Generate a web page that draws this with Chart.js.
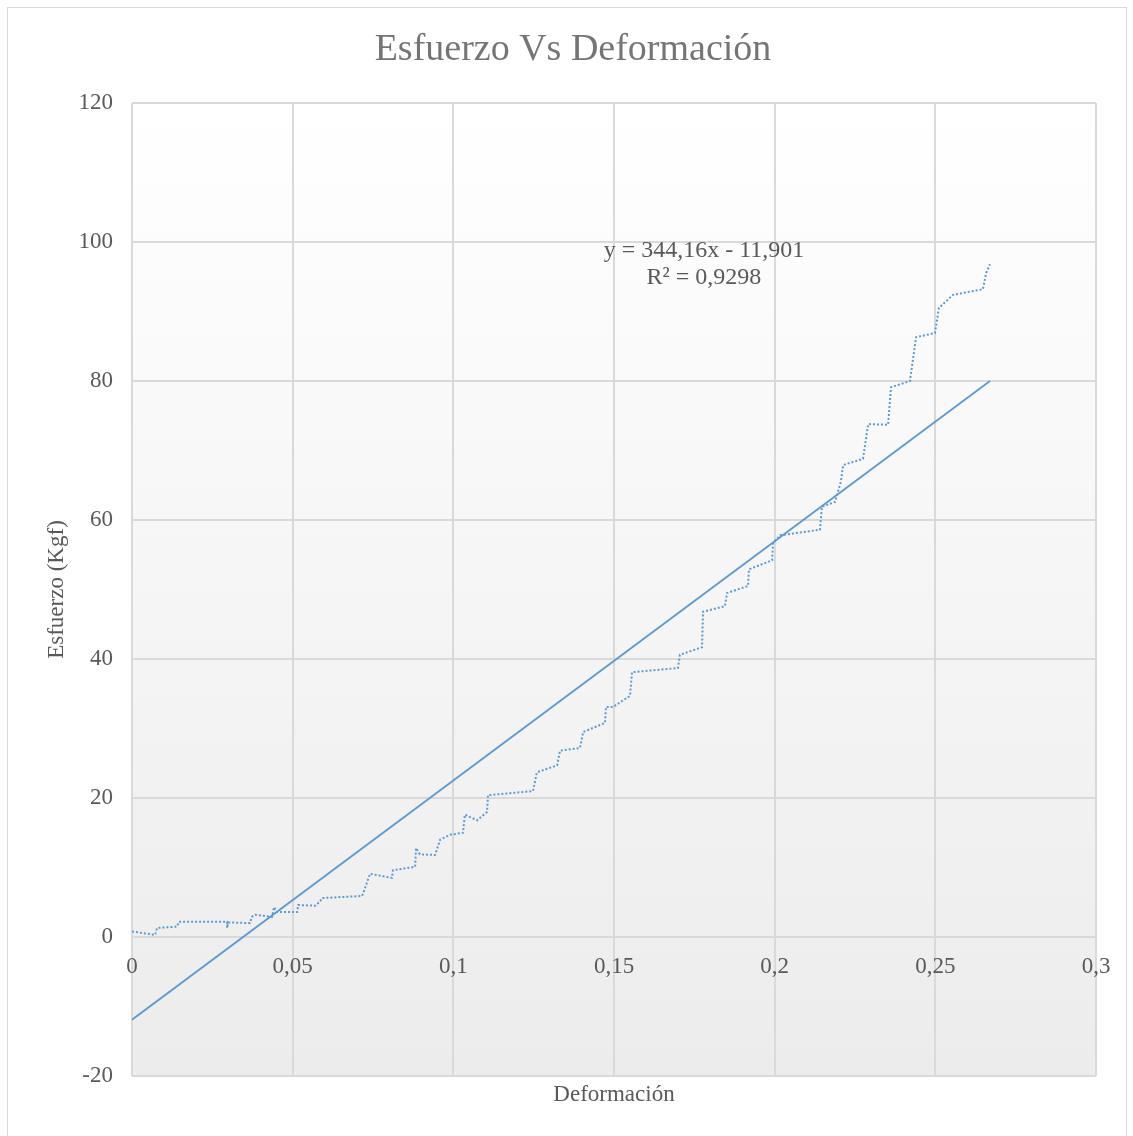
<!DOCTYPE html>
<html lang="es">
<head>
<meta charset="utf-8">
<title>Esfuerzo Vs Deformación</title>
<script src="https://cdn.jsdelivr.net/npm/chart.js@4.4.1/dist/chart.umd.min.js"></script>
<style>
  html, body { margin: 0; padding: 0; background: #ffffff; overflow: hidden; }
  #frame {
    position: absolute; left: 7px; top: 7px;
    width: 1118px; height: 1140px;
    border: 1px solid #d9d9d9; background: #ffffff;
  }
  #chart { display: block; }
</style>
</head>
<body>
<div id="frame"><canvas id="chart" width="1118" height="1130"></canvas></div>
<script>
// Ensayo: deformación unitaria y esfuerzo medido (Kgf)
const deformacion = [
  0, 0.0072, 0.0078, 0.0140, 0.0146, 0.0296, 0.0296, 0.0299, 0.0367, 0.0373,
  0.0383, 0.0436, 0.0442, 0.0451, 0.0514, 0.0517, 0.0570, 0.0585, 0.0591, 0.0716,
  0.0725, 0.0734, 0.0741, 0.0809, 0.0812, 0.0881, 0.0884, 0.0896, 0.0943, 0.0959,
  0.0990, 0.1030, 0.1036, 0.1074, 0.1105, 0.1108, 0.1248, 0.1260, 0.1323, 0.1332,
  0.1394, 0.1404, 0.1472, 0.1475, 0.1497, 0.1550, 0.1556, 0.1699, 0.1705, 0.1774,
  0.1777, 0.1845, 0.1852, 0.1917, 0.1920, 0.1992, 0.1995, 0.2017, 0.2141, 0.2147,
  0.2188, 0.2206, 0.2213, 0.2275, 0.2291, 0.2353, 0.2362, 0.2421, 0.2440, 0.2499,
  0.2511, 0.2555, 0.2648, 0.2658, 0.2670
];
const esfuerzo = [
  0.8, 0.3, 1.3, 1.5, 2.2, 2.2, 1.3, 2.1, 2.0, 2.9,
  3.2, 2.9, 4.3, 3.6, 3.6, 4.6, 4.5, 5.1, 5.6, 5.9,
  7.0, 8.2, 9.1, 8.5, 9.6, 10.1, 12.8, 11.9, 11.8, 14.0,
  14.7, 15.0, 17.6, 16.8, 18.0, 20.4, 21.0, 23.7, 24.7, 26.8,
  27.2, 29.5, 30.8, 33.1, 33.1, 34.7, 38.1, 38.7, 40.6, 41.7,
  46.8, 47.6, 49.5, 50.5, 52.9, 54.2, 56.7, 57.8, 58.6, 61.9,
  62.6, 65.5, 67.9, 68.8, 73.8, 73.7, 79.1, 80.0, 86.3, 86.9,
  90.5, 92.4, 93.2, 95.5, 96.8
];

// Línea de tendencia lineal
const pendiente = 344.16;
const intercepto = -11.901;
const r2 = 0.9298;

// Marcas de los ejes
const xTickValues = [0, 0.05, 0.1, 0.15, 0.2, 0.25, 0.3];
const xTickLabels = ['0', '0,05', '0,1', '0,15', '0,2', '0,25', '0,3'];
const yTickValues = [-20, 0, 20, 40, 60, 80, 100, 120];
const yTickLabels = ['-20', '0', '20', '40', '60', '80', '100', '120'];

const serif = '"Liberation Serif", "Times New Roman", serif';
const textGray = '#595959';

const serie = deformacion.map((x, i) => ({ x: x, y: esfuerzo[i] }));
const xFin = deformacion[deformacion.length - 1];
const tendencia = [
  { x: 0, y: intercepto },
  { x: xFin, y: pendiente * xFin + intercepto }
];

function tickText(values, labels, v) {
  for (let i = 0; i < values.length; i++) {
    if (Math.abs(values[i] - v) < 1e-9) return labels[i];
  }
  return '';
}

const fondoDegradado = {
  id: 'fondoDegradado',
  beforeDraw(chart) {
    const { ctx, chartArea: a } = chart;
    const g = ctx.createLinearGradient(0, a.top, 0, a.bottom);
    g.addColorStop(0, '#ffffff');
    g.addColorStop(1, '#ececec');
    ctx.save();
    ctx.fillStyle = g;
    ctx.fillRect(a.left, a.top, a.right - a.left, a.bottom - a.top);
    ctx.restore();
  }
};

const textos = {
  id: 'textos',
  afterDraw(chart) {
    const { ctx, chartArea: a, scales } = chart;
    ctx.save();
    ctx.textAlign = 'center';
    ctx.textBaseline = 'middle';

    // Título
    ctx.fillStyle = '#757575';
    ctx.font = '38px ' + serif;
    ctx.fillText('Esfuerzo Vs Deformación', 565, 42);

    // Etiquetas del eje horizontal, sobre la línea y = 0
    ctx.fillStyle = textGray;
    ctx.font = '23px ' + serif;
    const yCero = scales.y.getPixelForValue(0);
    xTickValues.forEach((v, i) => {
      ctx.fillText(xTickLabels[i], scales.x.getPixelForValue(v), yCero + 30);
    });

    // Títulos de ejes
    ctx.fillText('Deformación', (a.left + a.right) / 2, 1087);
    ctx.save();
    ctx.translate(49, (a.top + a.bottom) / 2);
    ctx.rotate(-Math.PI / 2);
    ctx.fillText('Esfuerzo (Kgf)', 0, 0);
    ctx.restore();

    // Ecuación de la tendencia
    ctx.font = '24px ' + serif;
    const ex = scales.x.getPixelForValue(0.178);
    const ey = scales.y.getPixelForValue(98.7);
    const eq = 'y = ' + pendiente.toString().replace('.', ',') + 'x - ' +
      Math.abs(intercepto).toString().replace('.', ',');
    ctx.fillText(eq, ex, ey);
    ctx.fillText('R² = ' + r2.toString().replace('.', ','), ex, ey + 27);
    ctx.restore();
  }
};

new Chart(document.getElementById('chart'), {
  type: 'scatter',
  data: {
    datasets: [
      {
        label: 'Esfuerzo',
        data: serie,
        showLine: true,
        borderColor: '#5b9bd5',
        borderWidth: 2,
        borderDash: [2, 2],
        pointRadius: 0,
        tension: 0,
        fill: false
      },
      {
        label: 'Lineal (Esfuerzo)',
        data: tendencia,
        showLine: true,
        borderColor: '#5b9bd5',
        borderWidth: 1.8,
        pointRadius: 0,
        fill: false
      }
    ]
  },
  options: {
    responsive: false,
    animation: false,
    devicePixelRatio: 1,
    layout: { padding: { left: 0, right: 30, top: 95, bottom: 0 } },
    plugins: {
      legend: { display: false },
      tooltip: { enabled: false },
      title: { display: false }
    },
    scales: {
      x: {
        type: 'linear',
        position: 'bottom',
        min: 0,
        max: 0.3,
        afterBuildTicks(scale) {
          scale.ticks = xTickValues.map(v => ({ value: v }));
        },
        afterFit(scale) { scale.height = 62; },
        grid: { color: '#d9d9d9', lineWidth: 2, drawTicks: false },
        border: { display: false },
        ticks: { display: false }
      },
      y: {
        type: 'linear',
        position: 'left',
        min: -20,
        max: 120,
        afterBuildTicks(scale) {
          scale.ticks = yTickValues.map(v => ({ value: v }));
        },
        afterFit(scale) { scale.width = 124; },
        grid: { color: '#d9d9d9', lineWidth: 2, drawTicks: false },
        border: { display: false },
        ticks: {
          padding: 19,
          color: textGray,
          font: { family: serif, size: 23 },
          callback: v => tickText(yTickValues, yTickLabels, v)
        }
      }
    }
  },
  plugins: [fondoDegradado, textos]
});
</script>
</body>
</html>
